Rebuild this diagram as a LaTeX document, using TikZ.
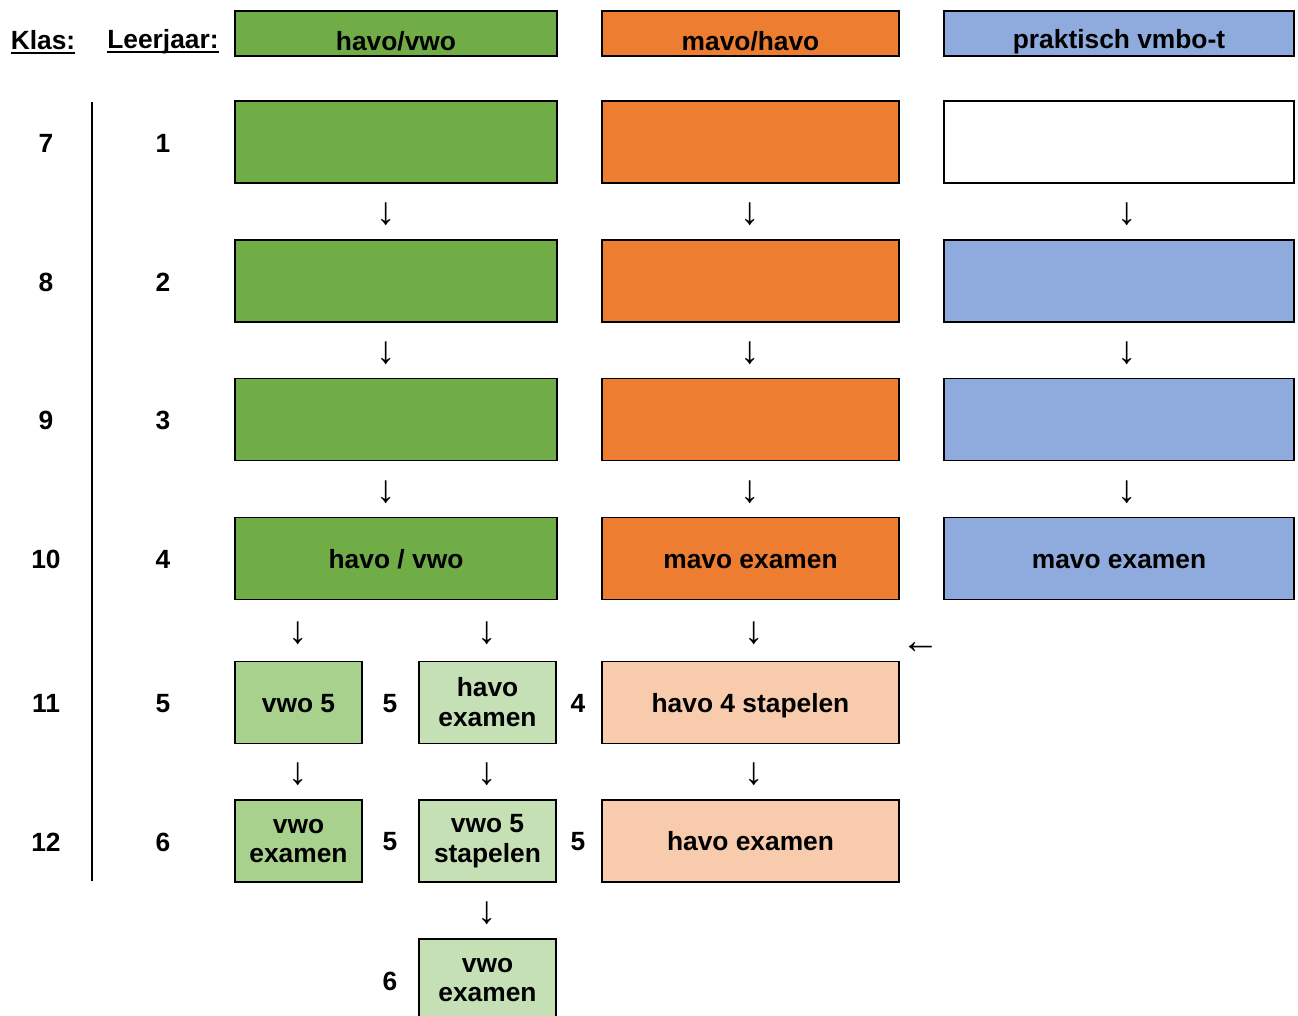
\documentclass[tikz,border=0pt]{standalone}
\usepackage{fontspec}
\setmainfont{Liberation Sans}

\definecolor{hvgreen}{HTML}{70AD47}
\definecolor{mhorange}{HTML}{ED7D31}
\definecolor{vmblue}{HTML}{8FAADC}
\definecolor{vwolight}{HTML}{A9D18E}
\definecolor{havolight}{HTML}{C5E0B4}
\definecolor{peach}{HTML}{F8CBAD}

\newlength{\ondlen}
\newcommand{\onderstreep}[1]{\settowidth{\ondlen}{#1}\rlap{\rule[-2.6pt]{\ondlen}{1.1pt}}#1}

\tikzset{
    box/.style={draw, line width=1.1pt, inner sep=0pt, align=center, minimum height=1.64cm,
        font=\bfseries\fontsize{15}{17}\selectfont},
    eenregel/.style={text height=13.5pt, text depth=2.5pt},
    kop/.style={draw, line width=1.1pt, inner sep=0pt, minimum height=0.9cm},
    koptxt/.style={font=\bfseries\fontsize{15}{17}\selectfont},
    getal/.style={font=\bfseries\fontsize{15}{17}\selectfont},
    pijl/.style={font=\fontsize{22}{24}\selectfont, inner sep=0pt},
    breedgroen/.style={box, minimum width=6.44cm, fill=hvgreen},
    breedoranje/.style={box, minimum width=5.94cm, fill=mhorange},
    breedblauw/.style={box, minimum width=7cm, fill=vmblue},
}

\begin{document}
\begin{tikzpicture}[x=0.02cm, y=-0.02cm]
    \useasboundingbox (0,0) rectangle (1298,1016);
    \clip (0,0) rectangle (1298,1016);

    % kopregel
    \node[getal] (klas) at (43,42) {\onderstreep{Klas:}};
    \node[getal] (leerjaar) at (163,42) {\onderstreep{Leerjaar:}};
    \node[kop, minimum width=6.44cm, fill=hvgreen] (khv) at (396,33.5) {};
    \node[kop, minimum width=5.94cm, fill=mhorange] (kmh) at (750.5,33.5) {};
    \node[kop, minimum width=7cm, fill=vmblue] (kvm) at (1119,33.5) {};
    \node[koptxt] (khvtxt) at (396,41.5) {havo/vwo};
    \node[koptxt] (kmhtxt) at (750.5,41.5) {mavo/havo};
    \node[koptxt] (kvmtxt) at (1119,41.5) {praktisch vmbo-t};

    \draw[line width=1pt] (92,102) -- (92,881);

    % klas en leerjaar
    \node[getal] (k7) at (46,143) {7};
    \node[getal] (k8) at (46,282) {8};
    \node[getal] (k9) at (46,420.5) {9};
    \node[getal] (k10) at (46,559.5) {10};
    \node[getal] (k11) at (46,703.5) {11};
    \node[getal] (k12) at (46,842) {12};
    \node[getal] (j1) at (163,143) {1};
    \node[getal] (j2) at (163,282) {2};
    \node[getal] (j3) at (163,420.5) {3};
    \node[getal] (j4) at (163,559.5) {4};
    \node[getal] (j5) at (163,703.5) {5};
    \node[getal] (j6) at (163,842) {6};

    % onderbouw
    \node[breedgroen] (hv1) at (396,142) {};
    \node[breedoranje] (mh1) at (750.5,142) {};
    \node[breedblauw, fill=white] (vm1) at (1119,142) {};
    \node[breedgroen] (hv2) at (396,281) {};
    \node[breedoranje] (mh2) at (750.5,281) {};
    \node[breedblauw] (vm2) at (1119,281) {};
    \node[breedgroen] (hv3) at (396,419.5) {};
    \node[breedoranje] (mh3) at (750.5,419.5) {};
    \node[breedblauw] (vm3) at (1119,419.5) {};
    \node[breedgroen, eenregel] (hv4) at (396,558.5) {havo / vwo};
    \node[breedoranje, eenregel] (mh4) at (750.5,558.5) {mavo examen};
    \node[breedblauw, eenregel] (vm4) at (1119,558.5) {mavo examen};

    % bovenbouw
    \node[box, eenregel, minimum width=2.54cm, fill=vwolight] (vwo5) at (298.5,702.5) {vwo 5};
    \node[box, minimum width=2.74cm, fill=havolight] (havoex) at (487.5,702.5) {havo\\examen};
    \node[box, eenregel, minimum width=5.94cm, fill=peach] (havo4st) at (750.5,702.5) {havo 4 stapelen};
    \node[box, minimum width=2.54cm, fill=vwolight] (vwoex) at (298.5,841) {vwo\\examen};
    \node[box, minimum width=2.74cm, fill=havolight] (vwo5st) at (487.5,841) {vwo 5\\stapelen};
    \node[box, eenregel, minimum width=5.94cm, fill=peach] (havoex2) at (750.5,841) {havo examen};
    \node[box, minimum width=2.74cm, fill=havolight] (vwoex2) at (487.5,980) {vwo\\examen};

    \node[getal] (n5a) at (390,703.5) {5};
    \node[getal] (n4a) at (578,703.5) {4};
    \node[getal] (n5b) at (390,842) {5};
    \node[getal] (n5c) at (578,842) {5};
    \node[getal] (n6a) at (390,981) {6};

    % pijlen
    \node[pijl] (p12a) at (386,214) {↓};
    \node[pijl] (p12b) at (750,214) {↓};
    \node[pijl] (p12c) at (1127,214) {↓};
    \node[pijl] (p23a) at (386,353) {↓};
    \node[pijl] (p23b) at (750,353) {↓};
    \node[pijl] (p23c) at (1127,353) {↓};
    \node[pijl] (p34a) at (386,492) {↓};
    \node[pijl] (p34b) at (750,492) {↓};
    \node[pijl] (p34c) at (1127,492) {↓};
    \node[pijl] (p45a) at (298,633) {↓};
    \node[pijl] (p45b) at (487,633) {↓};
    \node[pijl] (p45c) at (754,633) {↓};
    \node[pijl] (p45d) at (921,648) {←};
    \node[pijl] (p56a) at (298,774) {↓};
    \node[pijl] (p56b) at (487,774) {↓};
    \node[pijl] (p56c) at (754,774) {↓};
    \node[pijl] (p67) at (487,913) {↓};
\end{tikzpicture}
\end{document}
